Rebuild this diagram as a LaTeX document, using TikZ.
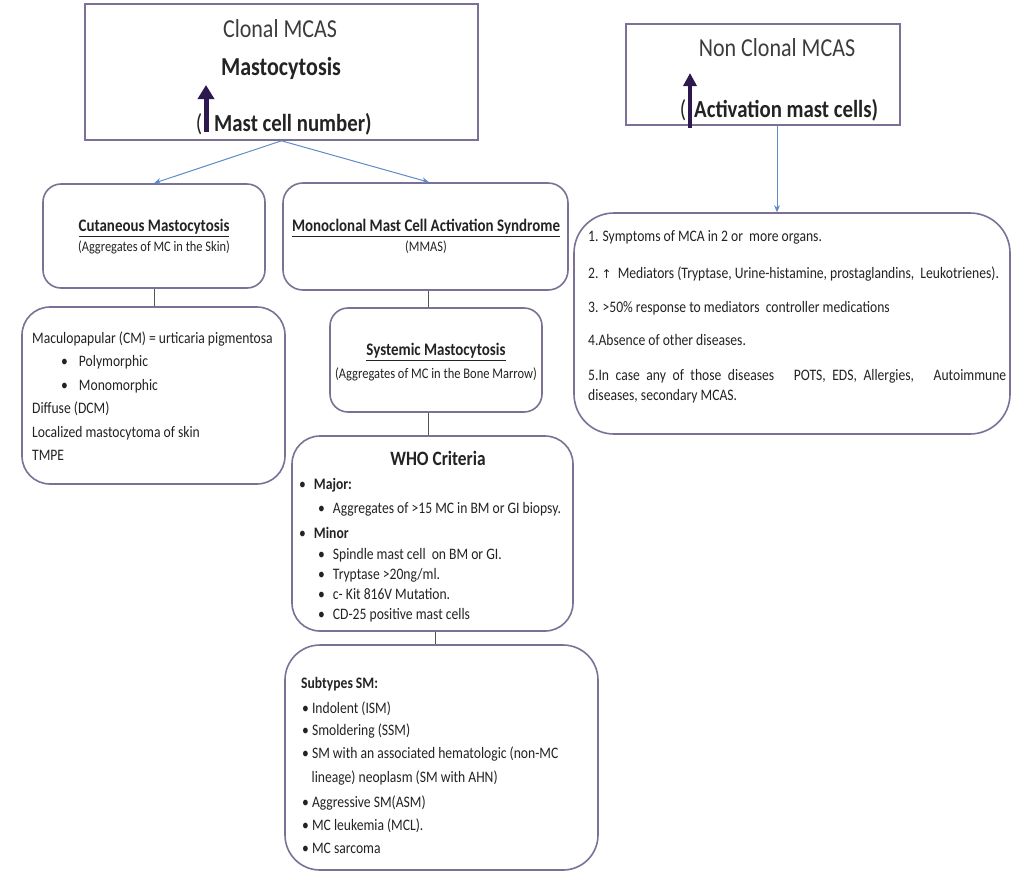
\documentclass[tikz,border=0pt]{standalone}
\usepackage{fontspec}
\setmainfont[FakeStretch=0.85]{Carlito}
\newfontfamily\symfont{DejaVu Sans}
\usetikzlibrary{arrows.meta}
\definecolor{boxc}{RGB}{125,112,150}
\definecolor{txt}{RGB}{35,35,35}
\definecolor{lighttxt}{RGB}{60,60,60}
\definecolor{arrowblue}{RGB}{95,140,200}
\definecolor{purp}{RGB}{45,25,80}
\definecolor{linec}{RGB}{85,85,85}
\begin{document}
\begin{tikzpicture}[x=1pt,y=-1pt,
  boxsq/.style={draw=boxc, line width=1.6pt, inner sep=0pt},
  boxr/.style={draw=boxc, line width=1.6pt, inner sep=0pt, rounded corners=#1},
  tx/.style={text=txt, inner sep=0pt},
  bigtx/.style={tx, text=lighttxt, font=\fontsize{25.9}{28}\selectfont},
  bigbtx/.style={tx, font=\bfseries\fontsize{24.5}{28}\selectfont},
  ttltx/.style={tx, font=\bfseries\fontsize{17.6}{20}\selectfont},
  subtx/.style={tx, font=\fontsize{14.6}{16}\selectfont},
  lntx/.style={tx, font=\fontsize{16}{18}\selectfont, anchor=base west},
  conn/.style={draw=linec, line width=0.8pt},
  barrow/.style={draw=arrowblue, line width=1pt, -{Stealth[length=7pt,width=6pt]}},
  uparrow/.style={draw=purp, -{Triangle[length=14pt,width=16pt]}}
]
\fill[white] (0,0) rectangle (1030,879);

% ---------- boxes ----------
\node[boxsq, minimum width=393, minimum height=136] (clonal) at (281.5,72) {};
\node[boxsq, minimum width=274, minimum height=101] (nonclonal) at (763,74.5) {};
\node[boxr=18pt, minimum width=222, minimum height=104] (cut) at (154,236) {};
\node[boxr=20pt, minimum width=285, minimum height=107] (mmas) at (425.5,236.5) {};
\node[boxr=40pt, minimum width=436, minimum height=221] (crit) at (792,323.5) {};
\node[boxr=28pt, minimum width=263, minimum height=177] (list) at (153.5,395.5) {};
\node[boxr=18pt, minimum width=212, minimum height=104] (sys) at (436,360) {};
\node[boxr=28pt, minimum width=281, minimum height=195] (who) at (432.5,533.5) {};
\node[boxr=35pt, minimum width=313, minimum height=225] (subt) at (441.5,757.5) {};

% ---------- connectors ----------
\draw[barrow] (clonal.south) -- (cut.north);
\draw[barrow] (clonal.south) -- ([xshift=3.5pt]mmas.north);
\draw[barrow] ([xshift=14pt]nonclonal.south) -- ([xshift=14pt]nonclonal.south |- crit.north);
\draw[conn] (cut.south) -- (cut.south |- list.north);
\draw[conn] ([xshift=2.5pt]mmas.south) -- ([xshift=2.5pt]mmas.south |- sys.north);
\draw[conn] ([xshift=-4pt]who.north |- sys.south) -- ([xshift=-4pt]who.north);
\draw[conn] ([xshift=2.5pt]who.south) -- ([xshift=2.5pt]who.south |- subt.north);

% ---------- Clonal MCAS ----------
\node[bigtx] (c1) at (280,29) {Clonal MCAS};
\node[bigbtx, font=\bfseries\fontsize{25.9}{28}\selectfont] (c2) at (281,68) {Mastocytosis};
\node[bigbtx, font=\fontsize{24.5}{28}\selectfont] (c3p) at (199,124) {(};
\node[bigbtx, anchor=west] (c3) at (214,124) {Mast cell number)};
\draw[uparrow, line width=5pt] (206,132) -- (206,85);

% ---------- Non Clonal MCAS ----------
\node[bigtx] (n1) at (777,48) {Non Clonal MCAS};
\node[bigbtx, font=\fontsize{24.5}{28}\selectfont] (n3p) at (683,110) {(};
\node[bigbtx, anchor=west] (n3) at (694,110) {Activation mast cells)};
\draw[purp, -{Triangle[length=13pt,width=13pt]}, line width=3.5pt] (690,128) -- (690,73);

% ---------- Cutaneous ----------
\node[ttltx] (cutt) at (154,228) {\underline{Cutaneous Mastocytosis}};
\node[subtx] (cuts) at (154,247) {(Aggregates of MC in the Skin)};

% ---------- MMAS ----------
\node[ttltx] (mmast) at (426,228) {\underline{Monoclonal Mast Cell Activation Syndrome}};
\node[subtx] (mmass) at (426,247) {(MMAS)};

% ---------- Systemic ----------
\node[ttltx] (syst) at (436,352) {\underline{Systemic Mastocytosis}};
\node[subtx, font=\fontsize{14.7}{16}\selectfont] (syss) at (436,374) {(Aggregates of MC in the Bone Marrow)};

% ---------- Cutaneous list ----------
\node[lntx] (l1) at (32,343) {Maculopapular (CM) = urticaria pigmentosa};
\node[lntx] (l2) at (61,366.5) {\textbullet\hspace{11pt}Polymorphic};
\node[lntx] (l3) at (61,390) {\textbullet\hspace{11pt}Monomorphic};
\node[lntx] (l4) at (32,413.5) {Diffuse (DCM)};
\node[lntx] (l5) at (32,437) {Localized mastocytoma of skin};
\node[lntx] (l6) at (32,460.5) {TMPE};

% ---------- WHO Criteria ----------
\node[tx, font=\bfseries\fontsize{20.4}{22}\selectfont] (whot) at (438,458) {WHO Criteria};
\node[lntx] (w1) at (299,489) {\textbullet\hspace{8pt}\textbf{Major:}};
\node[lntx] (w2) at (318,513) {\textbullet\hspace{8pt}Aggregates of >15 MC in BM or GI biopsy.};
\node[lntx] (w3) at (299,538) {\textbullet\hspace{8pt}\textbf{Minor}};
\node[lntx] (w4) at (318,559) {\textbullet\hspace{8pt}Spindle mast cell\ \ on BM or GI.};
\node[lntx] (w5) at (318,579) {\textbullet\hspace{8pt}Tryptase >20ng/ml.};
\node[lntx] (w6) at (318,599) {\textbullet\hspace{8pt}c- Kit 816V Mutation.};
\node[lntx] (w7) at (318,619) {\textbullet\hspace{8pt}CD-25 positive mast cells};

% ---------- Subtypes ----------
\node[lntx, font=\bfseries\fontsize{16}{18}\selectfont] (s0) at (301,688) {Subtypes SM:};
\node[lntx] (s1) at (302,713) {\textbullet\ Indolent (ISM)};
\node[lntx] (s2) at (302,735) {\textbullet\ Smoldering (SSM)};
\node[lntx] (s3) at (302,758) {\textbullet\ SM with an associated hematologic (non-MC};
\node[lntx] (s3b) at (311.5,782) {lineage) neoplasm (SM with AHN)};
\node[lntx] (s4) at (302,807) {\textbullet\ Aggressive SM(ASM)};
\node[lntx] (s5) at (302,830) {\textbullet\ MC leukemia (MCL).};
\node[lntx] (s6) at (302,853) {\textbullet\ MC sarcoma};

% ---------- Non clonal criteria ----------
\node[lntx] (r1) at (588,241) {1. Symptoms of MCA in 2 or\ \ more organs.};
\node[lntx] (r2) at (588,278) {2.\ {\symfont\fontsize{12}{14}\selectfont ↑}\ \ Mediators (Tryptase, Urine-histamine, prostaglandins,\ \ Leukotrienes).};
\node[lntx] (r3) at (588,312) {3. >50\% response to mediators\ \ controller medications};
\node[lntx] (r4) at (588,345) {4.Absence of other diseases.};
\node[lntx] (r5) at (588,380) {\makebox[418pt][s]{5.In case any of those diseases\ \ \ POTS, EDS, Allergies,\ \ \ Autoimmune}};
\node[lntx] (r6) at (588,400) {diseases, secondary MCAS.};
\end{tikzpicture}
\end{document}
